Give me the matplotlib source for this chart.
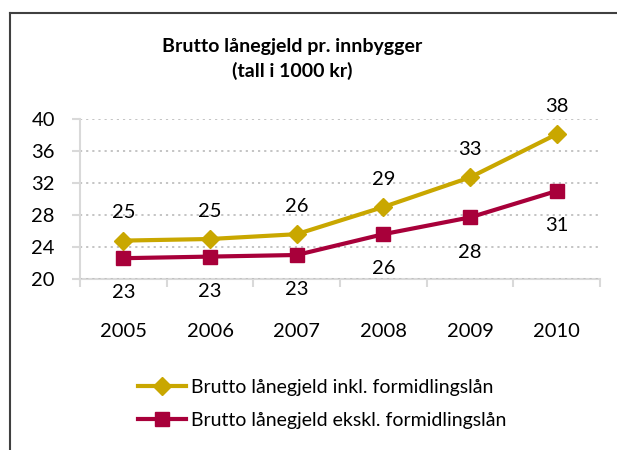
import matplotlib
matplotlib.use("Agg")
import matplotlib.pyplot as plt
from matplotlib.lines import Line2D

years = ["2005", "2006", "2007", "2008", "2009", "2010"]
inkl = [24.8, 25.0, 25.6, 29.0, 32.7, 38.1]
ekskl = [22.6, 22.8, 23.0, 25.6, 27.7, 31.0]
inkl_labels = ["25", "25", "26", "29", "33", "38"]
ekskl_labels = ["23", "23", "23", "26", "28", "31"]

GOLD = "#C9A700"
CRIMSON = "#A8003A"
FS = 14.5

plt.rcParams["font.family"] = ["Lato", "DejaVu Sans"]

fig = plt.figure(figsize=(6.17, 4.5), dpi=100)
ax = fig.add_axes([80 / 617, 171 / 450, 520 / 617, 160 / 450])

x = list(range(len(years)))
ax.plot(x, inkl, color=GOLD, lw=3, marker="D", ms=9, label="Brutto lånegjeld inkl. formidlingslån")
ax.plot(x, ekskl, color=CRIMSON, lw=3, marker="s", ms=10, label="Brutto lånegjeld ekskl. formidlingslån")

for xi, v, t in zip(x, inkl, inkl_labels):
    ax.annotate(t, (xi, v), xytext=(0, 20), textcoords="offset points",
                ha="center", va="center", fontsize=FS)
for xi, v, t in zip(x, ekskl, ekskl_labels):
    ax.annotate(t, (xi, v), xytext=(0, -25), textcoords="offset points",
                ha="center", va="center", fontsize=FS)

ax.set_xlim(-0.5, 5.5)
ax.set_ylim(20, 40)
ax.set_yticks(range(20, 41, 4))
ax.set_xticks(x)
ax.set_xticklabels(years)
ax.set_xticks([i - 0.5 for i in range(7)], minor=True)
ax.tick_params(axis="x", which="major", length=0, pad=32, labelsize=FS)
ax.tick_params(axis="x", which="minor", length=6, color="#D9D9D9", width=1.5)
ax.tick_params(axis="y", length=6, color="#D9D9D9", width=1.5, pad=12, labelsize=FS)

ax.grid(axis="y", color="#BFBFBF", linestyle=(0, (1.2, 2.2)), lw=1.3)
ax.set_axisbelow(True)
for s in ["top", "right"]:
    ax.spines[s].set_visible(False)
for s in ["left", "bottom"]:
    ax.spines[s].set_color("#D9D9D9")
    ax.spines[s].set_linewidth(1.5)
ax.spines["bottom"].set_zorder(0)

fig.text(292 / 617, 1 - 59 / 450, "Brutto lånegjeld pr. innbygger\n(tall i 1000 kr)",
         ha="center", va="center", fontsize=14, fontweight="bold", linespacing=1.4)

fig.legend(loc="upper left", bbox_to_anchor=(120 / 617, 1 - 361 / 450), frameon=False,
           fontsize=14, handlelength=2.5, handletextpad=0.25, labelspacing=0.85)

# frame around chart area
fig.add_artist(Line2D([9.5 / 617, 1], [1 - 12.5 / 450] * 2, color="#404040", lw=1.5))
fig.add_artist(Line2D([9.5 / 617] * 2, [0, 1 - 12.5 / 450], color="#404040", lw=1.5))

fig.savefig("out.png", dpi=100)
